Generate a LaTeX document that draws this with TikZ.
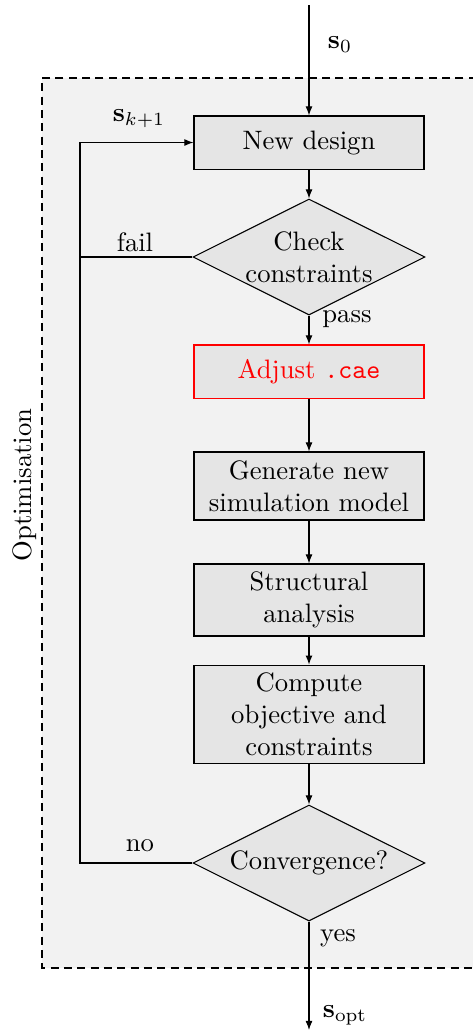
\documentclass[tikz,border=0pt]{standalone}
\usetikzlibrary{shapes.geometric,arrows.meta}
\begin{document}
\begin{tikzpicture}[x=0.375pt,y=-0.375pt,
  block/.style={draw,fill=gray!20,minimum width=86.25pt,align=center,inner sep=2pt},
  decision/.style={draw,fill=gray!20,diamond,aspect=2,minimum width=87pt,minimum height=43.5pt,inner sep=0pt,align=center},
  flow/.style={-{Latex[length=3.4pt,width=2.6pt]}},
  lbl/.style={inner sep=0pt}]
\useasboundingbox (0,0) rectangle (473,1033);

% optimisation loop region
\fill[gray!10] (42,78) rectangle (490,968);
\draw[line width=0.8pt,dash pattern=on 3pt off 2pt] (490,78) -- (42,78) -- (42,968) -- (490,968);
\node[lbl,rotate=90] (optlabel) at (25,485) {Optimisation};

% process steps
\node[block,minimum height=19.9pt] (new) at (309,142.5) {New design};
\node[decision] (check) at (309,257) {Check\\constraints};
\node[block,draw=red,text=red,minimum height=19.9pt] (adj) at (309,371.5) {Adjust \texttt{.cae}};
\node[block,minimum height=25.5pt] (gen) at (309,486) {Generate new\\simulation model};
\node[block,minimum height=27pt] (str) at (309,600) {Structural\\analysis};
\node[block,minimum height=37pt] (obj) at (309,714.5) {Compute\\objective and\\constraints};
\node[decision] (conv) at (309,863) {Convergence?};

\coordinate (start) at (309,5);
\coordinate (finish) at (309,1030);
\coordinate (loop) at (80,0);

% main flow
\draw[flow] (start) -- (new);
\draw[flow] (new) -- (check);
\draw[flow] (check) -- (adj);
\draw[flow] (adj) -- (gen);
\draw[flow] (gen) -- (str);
\draw[flow] (str) -- (obj);
\draw[flow] (obj) -- (conv);
\draw[flow] (conv) -- (finish);

% feedback loop
\draw (check.west) -- (check.west -| loop);
\draw[flow] (conv.west) -- (conv.west -| loop) -- (loop |- new.west) -- (new.west);

% labels
\node[lbl] (s0) at (340,45) {$\mathbf{s}_0$};
\node[lbl] (sk) at (139,119) {$\mathbf{s}_{k+1}$};
\node[lbl] (fail) at (135,242) {fail};
\node[lbl] (pass) at (347,319) {pass};
\node[lbl] (no) at (140,846) {no};
\node[lbl] (yes) at (338,938) {yes};
\node[lbl] (sopt) at (345,1015) {$\mathbf{s}_{\mathrm{opt}}$};
\end{tikzpicture}
\end{document}
